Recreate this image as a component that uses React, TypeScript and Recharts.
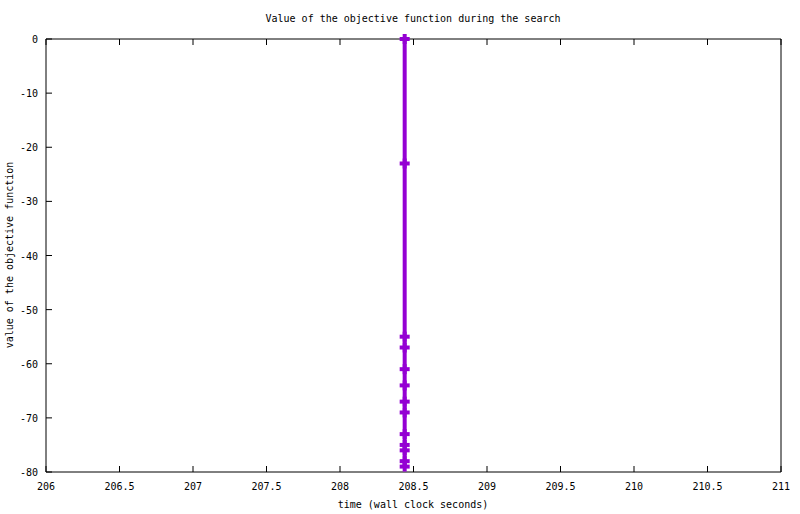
import React from "react";
import { LineChart, Line, XAxis, YAxis } from "recharts";

const times = [208.44, 208.44, 208.44, 208.44, 208.44, 208.44, 208.44, 208.44, 208.44, 208.44, 208.44, 208.44, 208.44];
const objective = [0, -23, -55, -57, -61, -64, -67, -69, -73, -75, -76, -78, -79];
const xTicks = [206, 206.5, 207, 207.5, 208, 208.5, 209, 209.5, 210, 210.5, 211];
const yTicks = [0, -10, -20, -30, -40, -50, -60, -70, -80];

const data = times.map((t, i) => ({ time: t, value: objective[i] }));

const W = 800;
const H = 514;
const LEFT = 46;
const TOP = 39;
const RIGHT = 781;
const BOTTOM = 472;
const TICK = 6;
const FONT = "'DejaVu Sans Mono', 'Liberation Mono', monospace";
const PURPLE = "#9400d3";

const BottomTick = (props: any) => {
  const { x, payload } = props;
  return (
    <g>
      <line x1={x} x2={x} y1={BOTTOM} y2={BOTTOM - TICK} stroke="#000" />
      <text x={x} y={BOTTOM + 18} textAnchor="middle" fontSize={10} fontFamily={FONT} fill="#000">
        {payload.value}
      </text>
    </g>
  );
};

const TopTick = (props: any) => {
  const { x } = props;
  return <line x1={x} x2={x} y1={TOP} y2={TOP + TICK} stroke="#000" />;
};

const LeftTick = (props: any) => {
  const { y, payload } = props;
  return (
    <g>
      <line x1={LEFT} x2={LEFT + TICK} y1={y} y2={y} stroke="#000" />
      <text x={LEFT - 8} y={y + 4} textAnchor="end" fontSize={10} fontFamily={FONT} fill="#000">
        {payload.value}
      </text>
    </g>
  );
};

const RightTick = (props: any) => {
  const { y } = props;
  return <line x1={RIGHT} x2={RIGHT - TICK} y1={y} y2={y} stroke="#000" />;
};

const PlusDot = (props: any) => {
  const { cx, cy, index } = props;
  if (cx == null || cy == null) return null;
  return (
    <g key={index}>
      <rect x={cx - 5} y={cy - 2} width={10} height={4} fill={PURPLE} />
      <rect x={cx - 2} y={cy - 5} width={4} height={10} fill={PURPLE} />
    </g>
  );
};

export default function App() {
  return (
    <div style={{ position: "absolute", left: 0, top: 0, width: W, height: H, background: "#fff" }}>
      <LineChart
        width={W}
        height={H}
        data={data}
        margin={{ top: TOP - 10, right: W - RIGHT - 10, bottom: H - BOTTOM - 30, left: LEFT - 40 }}
      >
        <XAxis
          xAxisId="bottom"
          dataKey="time"
          type="number"
          domain={[206, 211]}
          ticks={xTicks}
          allowDataOverflow
          height={30}
          tickLine={false}
          tickSize={0}
          tick={<BottomTick />}
          axisLine={{ stroke: "#000" }}
          interval={0}
        />
        <XAxis
          xAxisId="top"
          orientation="top"
          dataKey="time"
          type="number"
          domain={[206, 211]}
          ticks={xTicks}
          height={10}
          tickLine={false}
          tickSize={0}
          tick={<TopTick />}
          axisLine={{ stroke: "#000" }}
          interval={0}
        />
        <YAxis
          yAxisId="left"
          type="number"
          domain={[-80, 0]}
          ticks={yTicks}
          width={40}
          tickLine={false}
          tickSize={0}
          tick={<LeftTick />}
          axisLine={{ stroke: "#000" }}
          interval={0}
        />
        <YAxis
          yAxisId="right"
          orientation="right"
          type="number"
          domain={[-80, 0]}
          ticks={yTicks}
          width={10}
          tickLine={false}
          tickSize={0}
          tick={<RightTick />}
          axisLine={{ stroke: "#000" }}
          interval={0}
        />
        <Line
          xAxisId="bottom"
          yAxisId="left"
          dataKey="value"
          type="linear"
          stroke={PURPLE}
          strokeWidth={4}
          dot={<PlusDot />}
          activeDot={false}
          isAnimationActive={false}
        />
        <text x={413} y={22} textAnchor="middle" fontSize={10} fontFamily={FONT} fill="#000">
          Value of the objective function during the search
        </text>
        <text x={413} y={508} textAnchor="middle" fontSize={10} fontFamily={FONT} fill="#000">
          time (wall clock seconds)
        </text>
        <text
          x={13}
          y={255}
          textAnchor="middle"
          fontSize={10}
          fontFamily={FONT}
          fill="#000"
          transform="rotate(-90 13 255)"
        >
          value of the objective function
        </text>
      </LineChart>
    </div>
  );
}
